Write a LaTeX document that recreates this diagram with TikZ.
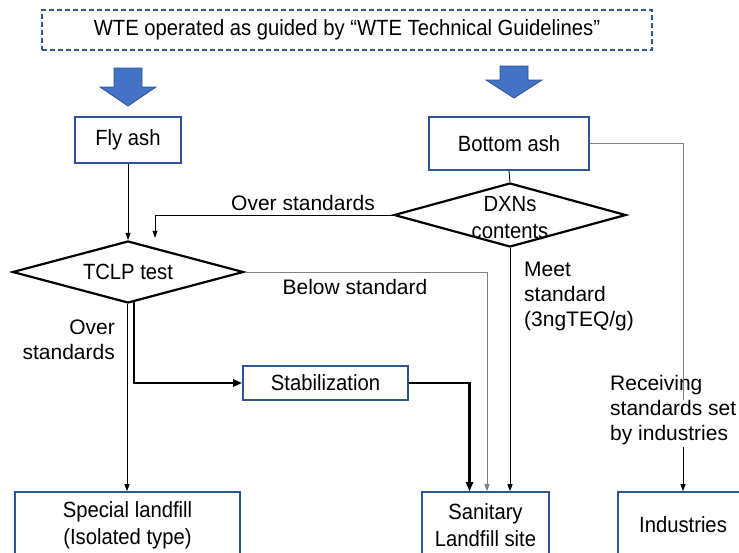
\documentclass[tikz,border=0pt]{standalone}
\usepackage{fontspec}
\setmainfont{Liberation Sans}
\newfontfamily\boxfont[FakeStretch=0.92]{Liberation Sans}
\usepackage{tikz}
\usetikzlibrary{calc,positioning,arrows.meta,shapes.geometric}

\definecolor{boxblue}{HTML}{2F5597}
\definecolor{arrowblue}{HTML}{4472C4}
\definecolor{arrowedge}{HTML}{2F528F}
\definecolor{linegray}{HTML}{808080}

% thick blue arrow pointing down: x, top, start of head, tip
\newcommand\blockarrow[4]{%
  \filldraw[fill=arrowblue,draw=arrowedge,line width=0.8pt]
    (#1-14,#2) -- (#1+14,#2) -- (#1+14,#3) -- (#1+28,#3) -- (#1,#4)
    -- (#1-28,#3) -- (#1-14,#3) -- cycle;}

\begin{document}
\begin{tikzpicture}[
                x=1pt,y=-1pt,
                box/.style={draw=boxblue,line width=1.6pt,inner sep=0pt,align=center,
                  font=\boxfont\fontsize{22}{27}\selectfont},
                decision/.style={diamond,draw,line width=2.2pt,inner sep=0pt},
                lbl/.style={inner sep=0pt,font=\fontsize{21}{25}\selectfont},
                flow/.style={line width=0.9pt,-{Triangle[length=7pt,width=5pt]}},
                mainflow/.style={line width=2.4pt,-{Triangle[length=9pt,width=7pt]}}
            ]
                \useasboundingbox (0,0) rectangle (739,552);
                \clip (0,0) rectangle (739,552);

                \node (guide) [box,draw=boxblue,dashed,dash pattern=on 5pt off 3pt,line width=1.4pt,
                  minimum width=610pt,minimum height=40pt] at (347,30)
                  {WTE operated as guided by “WTE Technical Guidelines”};
                \blockarrow{128}{68}{87}{106}
                \blockarrow{514}{66}{80}{98}

                \node (fly)    [box,minimum width=106pt,minimum height=46pt] at (128,140)   {Fly ash};
                \node (bottom) [box,minimum width=160pt,minimum height=53pt] at (509,143.5) {Bottom ash};
                \node (dxn)  [decision,minimum width=232pt,minimum height=64pt,
                  label={[box,draw=none,line width=0pt,yshift=-3pt]center:DXNs\\contents}] at (510,215) {};
                \node (tclp) [decision,minimum width=231pt,minimum height=62pt,
                  label={[box,draw=none,line width=0pt]center:TCLP test}] at (128,272) {};
                \node (stab)    [box,minimum width=165pt,minimum height=34pt] at (325.5,383) {Stabilization};
                \node (special) [box,minimum width=225pt,minimum height=66pt] at (127.5,525) {Special landfill\\(Isolated type)};
                \node (san)     [box,minimum width=127pt,minimum height=66pt] at (485.5,525) {Sanitary\\Landfill site};
                \node (ind)     [box,minimum width=130pt,minimum height=66pt] at (683,525)   {Industries};

                \node (lblover)  [lbl] at (303,203) {Over standards};
                \node (lblbelow) [lbl] at (355,287) {Below standard};
                \node (lblmeet)  [lbl,anchor=west,align=left] at (524,296) {Meet\\standard\\(3ngTEQ/g)};
                \node (lblrecv)  [lbl,anchor=west,align=left] at (610,410) {Receiving\\standards set\\by industries};
                \node (lblfail)  [lbl,anchor=east,align=right] at (115,340) {Over\\standards};

                \coordinate (overend) at ($(tclp.north)+(27,-2)$);
                \coordinate (failtop) at ($(tclp.south)+(-1,0)$);
                \coordinate (stabtop) at ($(tclp.south)+(6,-2)$);
                \coordinate (indbrk1) at (683,400);
                \coordinate (indbrk2) at (683,447);

                \draw[flow] (fly.south) -- (tclp.north);
                \draw[flow] (dxn.west) -| (overend);
                \draw[flow,linegray] (tclp.east) -| ($(san.north)+(1.5,0)$);
                \draw[flow] (dxn.south) -- (dxn.south |- san.north);
                \draw[line width=0.9pt] (bottom.south) -- (dxn.north);
                \draw[line width=0.9pt,linegray] (bottom.east) -| (indbrk1);
                \draw[flow] (indbrk2) -- (ind.north);
                \draw[flow] (failtop) -- (failtop |- special.north);
                \draw[mainflow] (stabtop) |- (stab.west);
                \draw[mainflow] (stab.east) -| ($(san.north)+(-16,0)$);
            \end{tikzpicture}
\end{document}
